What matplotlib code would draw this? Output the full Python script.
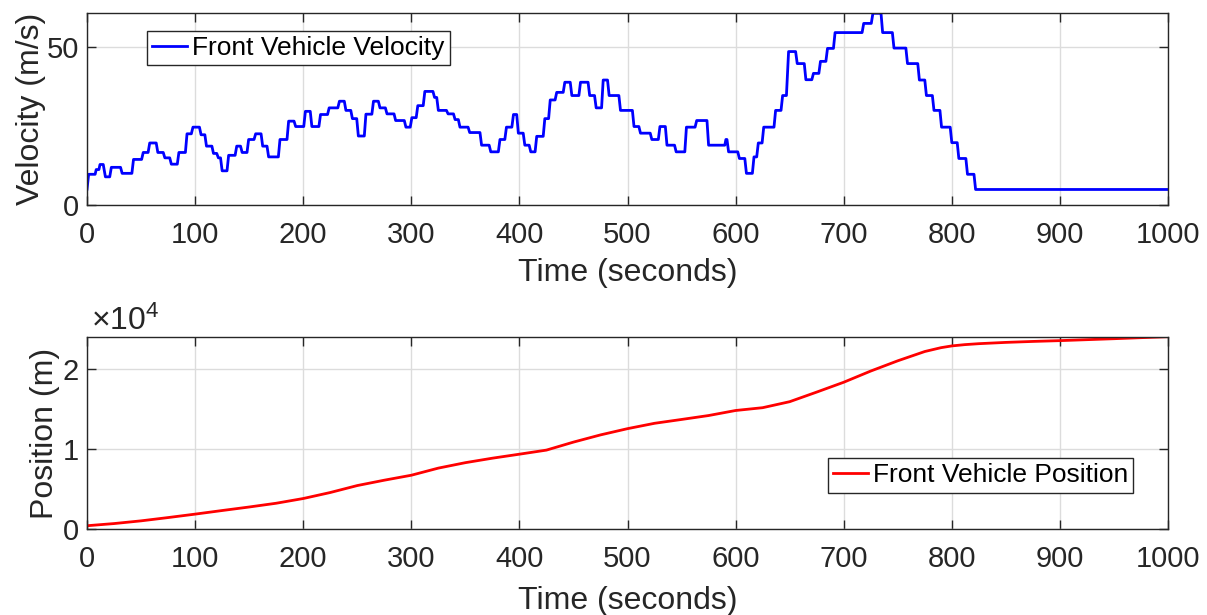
##### Packages #####
import numpy as np
import matplotlib
matplotlib.use('Agg')
import matplotlib.pyplot as plt

##### Data #####
# velocity plateaus: start time, end time, level [m/s]
vel_t_start = [0, 1.5, 8.5, 12, 17, 22.5, 32.5, 43, 52, 58, 65.5, 72, 78, 85, 92.5, 98,
               105.5, 110.5, 117, 121.5, 125, 131, 138.5, 143.5, 149.5, 156, 162.5, 168,
               178.5, 186.5, 193, 202, 208, 216, 224, 233.5, 239.5, 245.5, 251, 258, 265,
               271, 277.5, 285.5, 295, 300.5, 306, 312.5, 321.5, 325, 334, 340.5, 345, 354,
               365, 373.5, 382, 388, 394.5, 399, 405, 410.5, 416, 423.5, 428.5, 434.5, 442,
               448.5, 456.5, 465, 471, 477.5, 483, 493.5, 506, 512, 522.5, 530, 536.5, 545,
               554.5, 564, 575, 591, 593.5, 603.5, 610, 617, 621, 626, 637, 643.5, 649, 657,
               665, 672, 678.5, 685, 692, 718.5, 727, 736, 746.5, 759, 770, 776.5, 783.5,
               790.5, 800, 806.5, 814.5, 822]
vel_t_end = [0, 7.5, 11, 15, 21, 31, 41.5, 50.5, 56.5, 64, 70.5, 76.5, 83.5, 91, 96.5, 104,
             109, 115.5, 120, 123.5, 129.5, 137, 142, 148, 154.5, 161, 166.5, 177,
             185, 191.5, 200.5, 206.5, 214.5, 222.5, 232, 238, 244, 249.5, 256.5, 263.5, 269.5,
             276, 284, 293.5, 299, 304.5, 311, 320, 323.5, 332.5, 339, 343.5, 352.5, 363.5,
             372, 380.5, 386.5, 393, 397.5, 403.5, 409, 414.5, 422, 427, 433, 440.5, 447,
             455, 463.5, 469.5, 476, 481.5, 492, 504.5, 510.5, 521, 528.5, 535, 543.5, 553,
             562.5, 573.5, 590, 592, 602, 608.5, 615.5, 619.5, 624.5, 635.5, 642, 647, 655.5, 663.5,
             670.5, 677, 683.5, 690.5, 717, 725.5, 734.5, 745, 757.5, 768.5, 775, 782, 789,
             798.5, 805, 813, 820.5, 1000]
vel_level = [5.0, 9.7, 11.2, 12.8, 8.9, 11.9, 10.0, 14.4, 16.6, 19.6, 16.6, 14.9, 12.9, 16.6, 22.5, 24.6,
             22.2, 18.6, 16.3, 14.9, 10.8, 15.7, 18.6, 16.6, 20.7, 22.5, 18.6, 15.2,
             20.7, 26.5, 24.8, 29.6, 24.8, 28.6, 30.7, 32.8, 29.9, 27.3, 21.8, 28.7, 32.8,
             30.7, 28.8, 26.7, 24.6, 27.6, 31.4, 35.9, 34.0, 29.9, 28.8, 27.0, 24.6, 22.9,
             18.9, 16.8, 20.7, 24.6, 28.6, 22.7, 18.9, 16.8, 21.7, 27.3, 33.2, 35.6, 38.8,
             34.6, 38.8, 34.6, 30.7, 39.5, 34.6, 29.9, 24.8, 22.7, 20.7, 24.8, 18.9, 16.8,
             24.6, 26.7, 18.9, 20.7, 16.8, 14.7, 10.0, 15.2, 19.6, 24.6, 29.9, 34.6, 48.5, 44.7,
             39.6, 41.6, 45.4, 49.5, 54.5, 57.4, 60.6, 54.5, 49.6, 44.7, 39.5, 34.6, 29.9,
             24.6, 19.7, 14.7, 9.7, 4.9]

# position samples [s], [m]
pos_t = [0, 25, 50, 75, 100, 125, 150, 175, 200, 225, 250, 275, 300, 325, 350, 375, 400,
         425, 450, 475, 500, 525, 550, 575, 600, 625, 650, 675, 700, 725, 750, 775, 790,
         800, 812, 825, 850, 875, 900, 925, 950, 975, 1000]
pos_m = [450, 720, 1060, 1470, 1900, 2350, 2790, 3260, 3850, 4600, 5470, 6140, 6760, 7650,
         8330, 8890, 9390, 9900, 10900, 11800, 12580, 13250, 13730, 14220, 14850, 15200,
         15950, 17150, 18380, 19780, 21060, 22220, 22700, 22920, 23080, 23200, 23360, 23480,
         23580, 23700, 23820, 23950, 24070]

##### Style #####
plt.rcParams.update({
    'font.family': 'Liberation Sans',
    'mathtext.fontset': 'custom',
    'mathtext.rm': 'Liberation Sans',
    'mathtext.it': 'Liberation Sans',
    'font.size': 21,
    'xtick.direction': 'in',
    'ytick.direction': 'in',
    'xtick.top': True,
    'ytick.right': True,
    'axes.linewidth': 1.0})

TEXT_COLOR = '#262626'
GRID_COLOR = '#dcdcdc'

# plateau pairs -> polyline (start, end of each level)
vel_x = np.column_stack([vel_t_start, vel_t_end]).ravel()
vel_y = np.column_stack([vel_level, vel_level]).ravel()

fig = plt.figure(figsize=(12.07, 6.15), dpi=100)
ax1 = fig.add_axes([0.0721, 0.6667, 0.8956, 0.3117])
ax2 = fig.add_axes([0.0721, 0.1393, 0.8956, 0.3132])


def style_axes(ax, xlabelpad):
    ax.grid(True, color=GRID_COLOR, linewidth=1.0)
    ax.set_axisbelow(True)
    for sp in ax.spines.values():
        sp.set_color(TEXT_COLOR)
    ax.tick_params(which='both', length=6.5, width=1.0, color=TEXT_COLOR,
                   labelcolor=TEXT_COLOR, labelsize=21)
    ax.tick_params(axis='x', pad=11.5)
    ax.tick_params(axis='y', pad=6)
    ax.set_xlim(0, 1000)
    ax.set_xticks(np.arange(0, 1001, 100))
    ax.set_xlabel('Time (seconds)', fontsize=23, color=TEXT_COLOR, labelpad=xlabelpad)


### Velocity ###
ax1.plot(vel_x, vel_y, color=(0, 0, 1), linewidth=2.0, label='Front Vehicle Velocity')
style_axes(ax1, 6.5)
ax1.set_ylim(0, 60.6)
ax1.set_yticks([0, 50])
ax1.set_ylabel('Velocity (m/s)', fontsize=23, color=TEXT_COLOR, labelpad=0)
leg1 = ax1.legend(loc='upper left', bbox_to_anchor=(0.0555, 0.908), borderaxespad=0,
                  fontsize=19, handlelength=1.3, handletextpad=0.2, borderpad=0.2,
                  fancybox=False, framealpha=1, edgecolor=TEXT_COLOR)
leg1.get_frame().set_linewidth(1.0)

### Position ###
ax2.plot(pos_t, pos_m, color=(1, 0, 0), linewidth=2.0, label='Front Vehicle Position')
style_axes(ax2, 9.5)
ax2.set_ylim(0, 24070)
ax2.set_yticks([0, 10000, 20000])
ax2.set_yticklabels(['0', '1', '2'])
ax2.set_ylabel('Position (m)', fontsize=23, color=TEXT_COLOR, labelpad=1.5)
ax2.text(0.004, 1.035, r'$\times 10^{4}$', transform=ax2.transAxes, fontsize=23,
         color=TEXT_COLOR, ha='left', va='baseline')
leg2 = ax2.legend(loc='upper left', bbox_to_anchor=(0.6855, 0.370), borderaxespad=0,
                  fontsize=19, handlelength=1.3, handletextpad=0.2, borderpad=0.2,
                  fancybox=False, framealpha=1, edgecolor=TEXT_COLOR)
leg2.get_frame().set_linewidth(1.0)

fig.savefig('out.png', dpi=100)
plt.close(fig)
